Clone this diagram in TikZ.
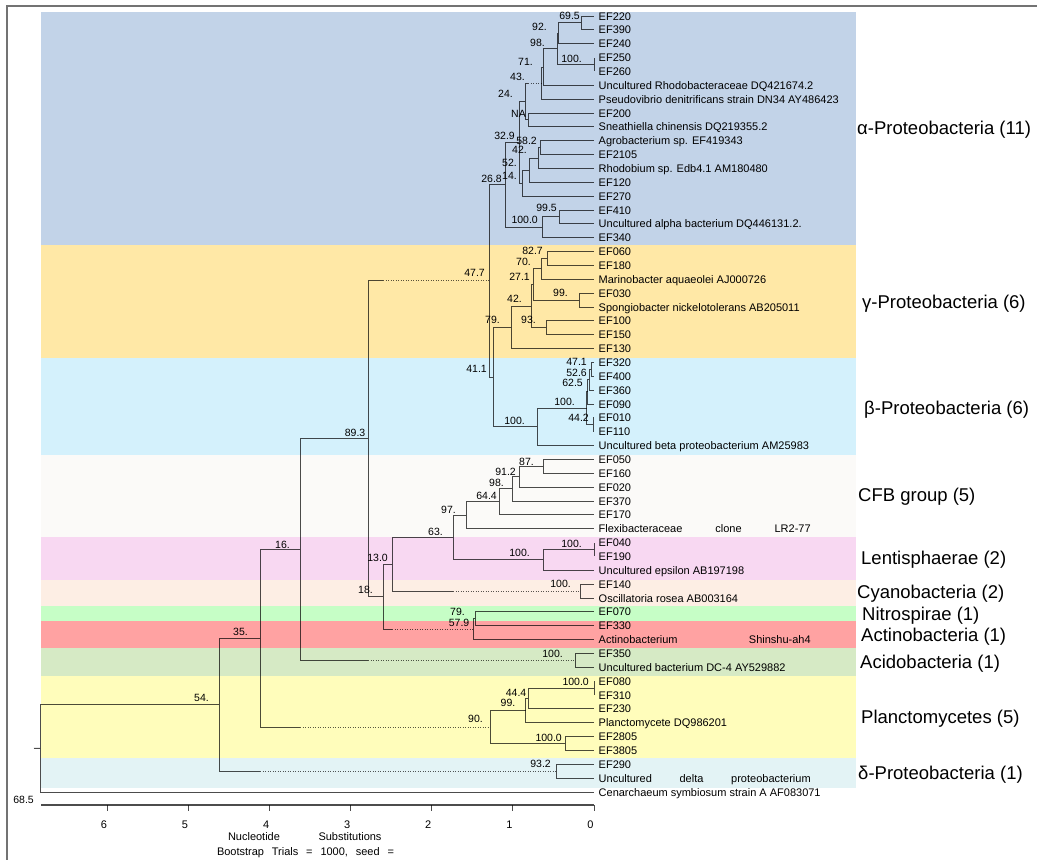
\documentclass[tikz,border=0pt]{standalone}
\usepackage{fontspec}
\setmainfont{Liberation Sans}
\usetikzlibrary{calc}

\definecolor{alphabg}{HTML}{C2D3E8}
\definecolor{gammabg}{HTML}{FFE8A6}
\definecolor{betabg}{HTML}{D4F1FC}
\definecolor{cfbbg}{HTML}{FBFAF8}
\definecolor{lentibg}{HTML}{F8D8F2}
\definecolor{cyanobg}{HTML}{FDEEE4}
\definecolor{nitrobg}{HTML}{C6FEC6}
\definecolor{actinobg}{HTML}{FFA2A2}
\definecolor{acidobg}{HTML}{D6EAC5}
\definecolor{planctobg}{HTML}{FFFDBB}
\definecolor{deltabg}{HTML}{E3F3F5}

\tikzset{
  branch/.style={draw=black, draw opacity=0.7, line width=1pt},
  dotbranch/.style={draw=black, draw opacity=0.65, line width=1pt, dash pattern=on 1pt off 1.5pt},
  leaf/.style={anchor=base west, inner sep=0pt, xshift=4.5pt, yshift=-4pt, font=\fontsize{11}{13}\selectfont},
  bs/.style={anchor=base east, inner sep=0pt, font=\fontsize{10.5}{12}\selectfont},
  grp/.style={anchor=base west, inner sep=0pt, font=\fontsize{18.5}{20}\selectfont},
  axlab/.style={anchor=base, inner sep=0pt, font=\fontsize{11}{13}\selectfont},
}

% clade: name, x, upper child, lower child
\newcommand\mkclade[4]{%
  \coordinate (#1m) at ($(#3)!.5!(#4)$);
  \coordinate (#1x) at (#2,0);
  \coordinate (#1) at (#1m -| #1x);
  \draw[branch] (#1) |- (#3);
  \draw[branch] (#1) |- (#4);
}
% clade whose first child hangs on a dotted branch
\newcommand\mkdclade[4]{%
  \coordinate (#1m) at ($(#3)!.5!(#4)$);
  \coordinate (#1x) at (#2,0);
  \coordinate (#1) at (#1m -| #1x);
  \draw[branch] (#1) |- (#4);
  \draw[branch] (#1) |- (#3 -| #4);
  \draw[dotbranch] (#3 -| #4) -- (#3);
}

\begin{document}
\begin{tikzpicture}[x=1pt,y=-1pt]
  \useasboundingbox (0,0) rectangle (1037,860);
  \draw[black!55, line width=1.2pt] (1037,6) -- (7,6) -- (7,860);

  % coloured groups
  \foreach \ya/\yb/\cl in {12/245/alphabg, 245/358/gammabg, 358/455/betabg,
      455/537/cfbbg, 537/580/lentibg, 580/606/cyanobg, 606/621/nitrobg,
      621/648/actinobg, 648/676/acidobg, 676/758/planctobg, 758/788/deltabg}
    \fill[\cl] (41,\ya) rectangle (856,\yb);

  % leaves
  \foreach \nm/\txt [count=\i] in {
      ef220/EF220, ef390/EF390, ef240/EF240, ef250/EF250, ef260/EF260,
      rhodo/Uncultured Rhodobacteraceae DQ421674.2,
      pseudo/Pseudovibrio denitrificans strain DN34 AY486423,
      ef200/EF200, sneat/Sneathiella chinensis DQ219355.2,
      agro/Agrobacterium sp. EF419343, ef2105/EF2105,
      rhodob/Rhodobium sp. Edb4.1 AM180480, ef120/EF120, ef270/EF270,
      ef410/EF410, uncalpha/Uncultured alpha bacterium DQ446131.2., ef340/EF340,
      ef060/EF060, ef180/EF180, marino/Marinobacter aquaeolei AJ000726,
      ef030/EF030, spongio/Spongiobacter nickelotolerans AB205011,
      ef100/EF100, ef150/EF150, ef130/EF130,
      ef320/EF320, ef400/EF400, ef360/EF360, ef090/EF090, ef010/EF010, ef110/EF110,
      uncbeta/Uncultured beta proteobacterium AM25983,
      ef050/EF050, ef160/EF160, ef020/EF020, ef370/EF370, ef170/EF170,
      flex/{\makebox[212pt][l]{Flexibacteraceae\hfill clone\hfill LR2-77}},
      ef040/EF040, ef190/EF190, unceps/Uncultured epsilon AB197198,
      ef140/EF140, oscill/Oscillatoria rosea AB003164,
      ef070/EF070, ef330/EF330,
      actino/{\makebox[212pt][l]{Actinobacterium\hfill Shinshu-ah4}},
      ef350/EF350, uncbact/Uncultured bacterium DC-4 AY529882,
      ef080/EF080, ef310/EF310, ef230/EF230, planct/Planctomycete DQ986201,
      ef2805/EF2805, ef3805/EF3805,
      ef290/EF290, uncdelta/{\makebox[212pt][l]{Uncultured\hfill delta\hfill proteobacterium}},
      cenar/Cenarchaeum symbiosum strain A AF083071} {
    \coordinate (\nm) at (594,{16+13.857*(\i-1)});
    \node[leaf] (\nm-lab) at (\nm) {\txt};
  }

  % alpha
  \mkclade{a1}{581}{ef220}{ef390}
  \mkclade{a2}{558}{a1}{ef240}
  \mkclade{a4}{594}{ef250}{ef260}
  \mkclade{a3}{557}{a2}{a4}
  \mkclade{a5}{543}{a3}{rhodo}
  \mkclade{a6}{541}{a5}{pseudo}
  \mkclade{a8}{528}{ef200}{sneat}
  \mkdclade{a7}{525}{a6}{a8}
  \mkclade{a10}{540}{agro}{ef2105}
  \mkclade{a11}{538}{a10}{rhodob}
  \mkclade{a12}{529}{a11}{ef120}
  \mkclade{a13}{522}{a12}{ef270}
  \mkclade{a9}{519}{a7}{a13}
  \mkclade{a14}{559}{ef410}{uncalpha}
  \mkclade{a15}{542}{a14}{ef340}
  \mkclade{a16}{505}{a9}{a15}
  % gamma
  \mkclade{g1}{547}{ef060}{ef180}
  \mkclade{g2}{541}{g1}{marino}
  \mkclade{g4}{579}{ef030}{spongio}
  \mkclade{g3}{533}{g2}{g4}
  \mkclade{g5}{546}{ef100}{ef150}
  \mkclade{g7}{531}{g3}{g5}
  \mkclade{g6}{511}{g7}{ef130}
  % beta
  \mkclade{b1}{591}{ef320}{ef400}
  \mkclade{b2}{589}{b1}{ef360}
  \mkclade{b3}{587.5}{b2}{ef090}
  \mkclade{b4}{593}{ef010}{ef110}
  \mkclade{b5}{586.5}{b3}{b4}
  \mkclade{b6}{537}{b5}{uncbeta}
  \mkclade{gb}{493}{g6}{b6}
  \mkclade{a17}{489}{a16}{gb}
  % CFB, Lentisphaerae, Cyanobacteria
  \mkclade{c1}{543}{ef050}{ef160}
  \mkclade{c2}{519}{c1}{ef020}
  \mkclade{c3}{512}{c2}{ef370}
  \mkclade{c4}{499}{c3}{ef170}
  \mkclade{c5}{466}{c4}{flex}
  \mkclade{l1}{594}{ef040}{ef190}
  \mkclade{l2}{543}{l1}{unceps}
  \mkclade{n6}{453}{c5}{l2}
  \mkclade{cy}{580.5}{ef140}{oscill}
  \mkdclade{n5}{392}{cy}{n6}
  % Nitrospirae, Actinobacteria
  \mkclade{n3}{475}{ef070}{ef330}
  \mkclade{n4}{473}{n3}{actino}
  \mkdclade{n2}{383}{n4}{n5}
  \mkdclade{n1}{368}{a17}{n2}
  % Acidobacteria
  \mkclade{ac}{575}{ef350}{uncbact}
  \mkdclade{n7}{300}{ac}{n1}
  % Planctomycetes
  \mkclade{p1}{594}{ef080}{ef310}
  \mkclade{p2}{528}{p1}{ef230}
  \mkclade{p3}{525.5}{p2}{planct}
  \mkclade{p4}{565}{ef2805}{ef3805}
  \mkclade{p5}{490}{p3}{p4}
  \mkdclade{n8}{260}{p5}{n7}
  % delta and root
  \mkclade{d1}{556}{ef290}{uncdelta}
  \mkdclade{n9}{219}{d1}{n8}
  \mkclade{root}{40}{n9}{cenar}
  \coordinate (rootin) at (34,748.4);
  \draw[branch] (rootin) -- (root);

  % bootstrap values
  \node[bs] (a1-bs) at (580,19.5) {69.5};
  \node[bs] (a2-bs) at (547,30.5) {92.};
  \node[bs] (a3-bs) at (545,46) {98.};
  \node[bs] (a4-bs) at (582,62.5) {100.};
  \node[bs] (a5-bs) at (533,65) {71.};
  \node[bs] (a6-bs) at (525,80.5) {43.};
  \node[bs] (a7-bs) at (513,97) {24.};
  \node[bs] (a8-bs) at (526,117.5) {NA};
  \node[bs] (a9-bs) at (515,139) {32.9};
  \node[bs] (a10-bs) at (537,144) {58.2};
  \node[bs] (a11-bs) at (527,153) {42.};
  \node[bs] (a12-bs) at (517,166.5) {52.};
  \node[bs] (a13-bs) at (517,179.5) {14.};
  \node[bs] (a16-bs) at (502,182) {26.8};
  \node[bs] (a14-bs) at (557,211.5) {99.5};
  \node[bs] (a15-bs) at (538,223) {100.0};
  \node[bs] (a17-bs) at (485,276) {47.7};
  \node[bs] (g1-bs) at (543,254) {82.7};
  \node[bs] (g2-bs) at (531,265) {70.};
  \node[bs] (g3-bs) at (530,280) {27.1};
  \node[bs] (g4-bs) at (568,296) {99.};
  \node[bs] (g7-bs) at (522,302) {42.};
  \node[bs] (g5-bs) at (536,323) {93.};
  \node[bs] (g6-bs) at (500,323) {79.};
  \node[bs] (b1-bs) at (587,365) {47.1};
  \node[bs] (b2-bs) at (587,376) {52.6};
  \node[bs] (b3-bs) at (583,386.5) {62.5};
  \node[bs] (gb-bs) at (487,372) {41.1};
  \node[bs] (b5-bs) at (575,405) {100.};
  \node[bs] (b4-bs) at (589,421) {44.2};
  \node[bs] (b6-bs) at (525,424) {100.};
  \node[bs] (n1-bs) at (365.5,436) {89.3};
  \node[bs] (c1-bs) at (534,465) {87.};
  \node[bs] (c2-bs) at (516,475) {91.2};
  \node[bs] (c3-bs) at (504,486) {98.};
  \node[bs] (c4-bs) at (497,499) {64.4};
  \node[bs] (c5-bs) at (456,513) {97.};
  \node[bs] (n6-bs) at (443,535) {63.};
  \node[bs] (l1-bs) at (582,547) {100.};
  \node[bs] (l2-bs) at (530,556.5) {100.};
  \node[bs] (n7-bs) at (290,548) {16.};
  \node[bs] (n5-bs) at (388,561.5) {13.0};
  \node[bs] (cy-bs) at (571,587) {100.};
  \node[bs] (n2-bs) at (373,593) {18.};
  \node[bs] (n3-bs) at (465,615.5) {79.};
  \node[bs] (n4-bs) at (469.5,626.5) {57.9};
  \node[bs] (n8-bs) at (248,635) {35.};
  \node[bs] (ac-bs) at (563,657) {100.};
  \node[bs] (p1-bs) at (589,685.5) {100.0};
  \node[bs] (p2-bs) at (526.5,696) {44.4};
  \node[bs] (n9-bs) at (209,701.5) {54.};
  \node[bs] (p3-bs) at (515.5,706.5) {99.};
  \node[bs] (p5-bs) at (483,722.5) {90.};
  \node[bs] (p4-bs) at (562,741.5) {100.0};
  \node[bs] (d1-bs) at (551,767) {93.2};

  % group names
  \node[grp] (alpha) at (857,134.5) {α-Proteobacteria (11)};
  \node[grp] (gamma) at (862,308.5) {γ-Proteobacteria (6)};
  \node[grp] (beta) at (864,414.5) {β-Proteobacteria (6)};
  \node[grp] (cfb) at (858,501.5) {CFB group (5)};
  \node[grp] (lenti) at (861,564.5) {Lentisphaerae (2)};
  \node[grp] (cyano) at (857,598.5) {Cyanobacteria (2)};
  \node[grp] (nitro) at (862,620.5) {Nitrospirae (1)};
  \node[grp] (actinog) at (861,641.5) {Actinobacteria (1)};
  \node[grp] (acido) at (860,668.5) {Acidobacteria (1)};
  \node[grp] (plancto) at (861,723.5) {Planctomycetes (5)};
  \node[grp] (delta) at (858,779.5) {δ-Proteobacteria (1)};

  % scale
  \coordinate (ax0) at (594,805);
  \coordinate (axend) at (41,805);
  \draw[branch, line width=1.2pt] (axend) -- (ax0);
  \foreach \d in {0,...,6} {
    \coordinate (tk\d) at ({594-81.1*\d},805);
    \draw[branch] (tk\d) -- ++(0,6);
    \node[axlab] (tk\d-lab) at ({594-81.1*\d-3.5},828) {\d};
  }
  \node[bs] (scale) at (34,803) {68.5};
  \node[axlab] (nuc) at (254,840) {Nucleotide};
  \node[axlab] (subst) at (350,840) {Substitutions};
  \node[axlab] (boot) at (305.5,855.5) {\makebox[177pt][l]{Bootstrap\hfill Trials\hfill =\hfill 1000,\hfill seed\hfill =}};
\end{tikzpicture}
\end{document}
